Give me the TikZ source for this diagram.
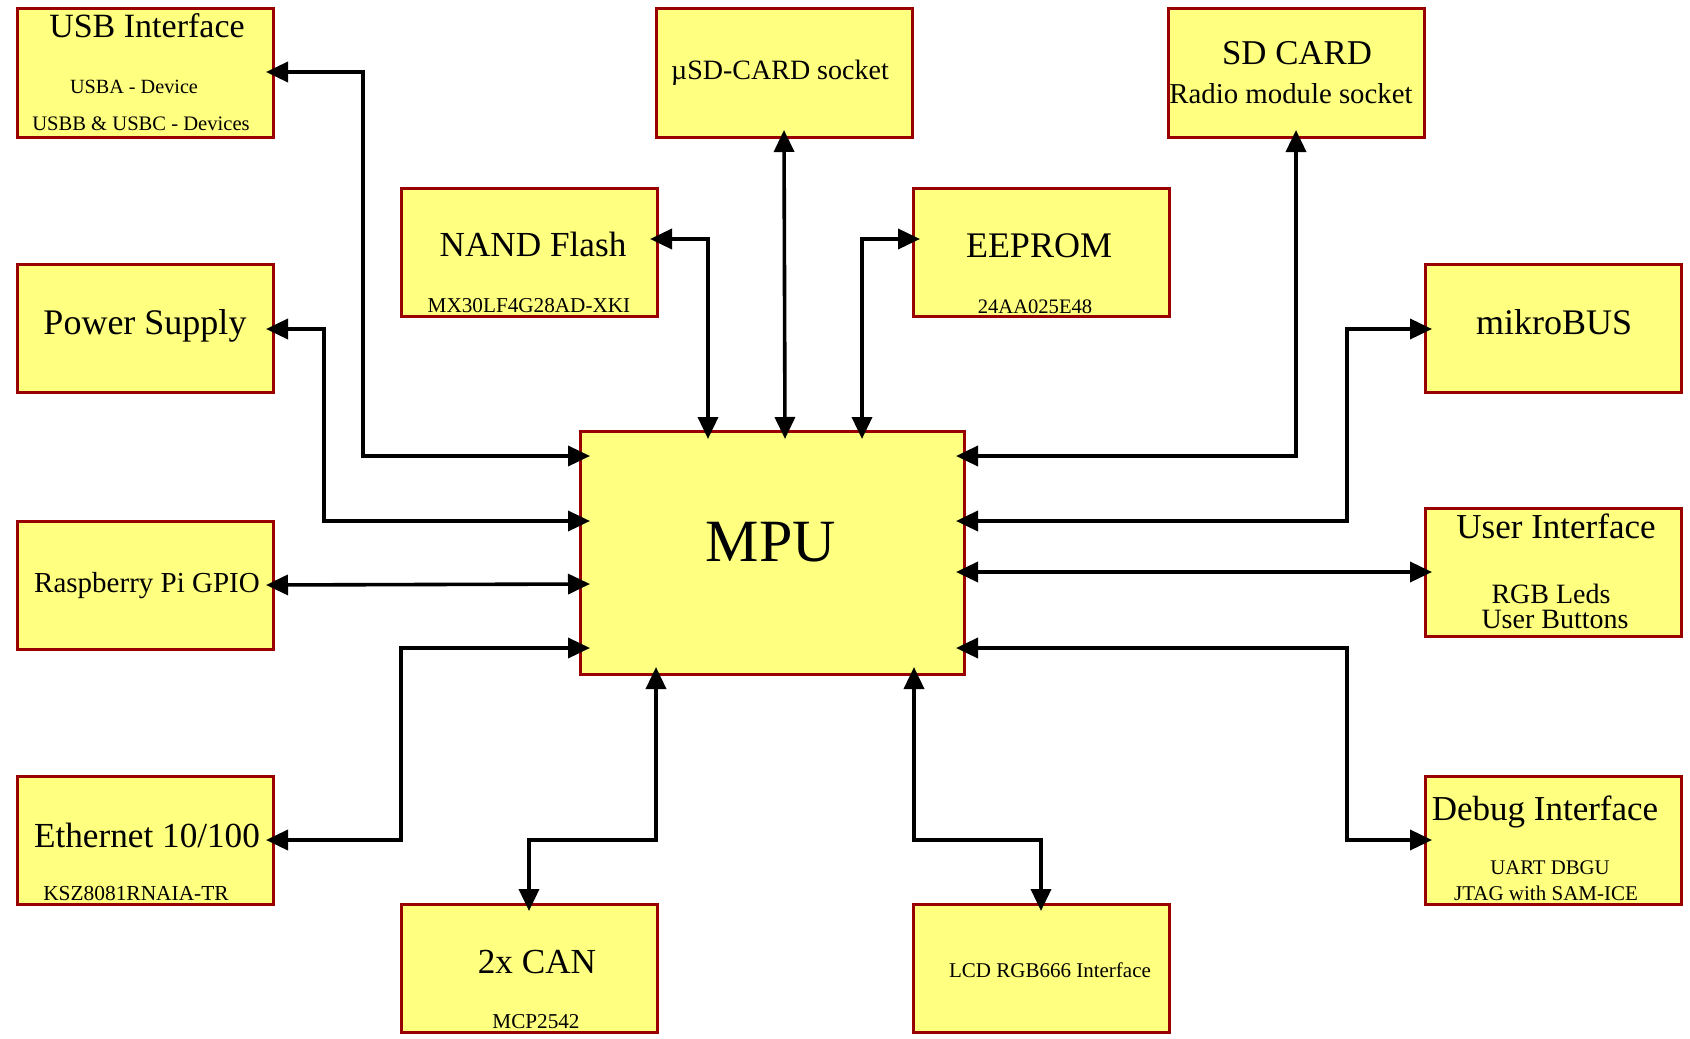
\documentclass[tikz,border=0pt]{standalone}
\usepackage{fontspec}
\setmainfont{Liberation Serif}
\usepackage{tikz}
\usetikzlibrary{arrows.meta,calc}
\definecolor{boxfill}{HTML}{FFFF80}
\definecolor{boxline}{HTML}{990000}
\tikzset{
  blk/.style={draw=boxline, fill=boxfill, line width=1.5pt, minimum width=128pt,
    minimum height=64pt, anchor=north west, inner sep=0pt, outer sep=0pt},
  lbl/.style={anchor=base, inner sep=0pt},
  fs/.style={font=\fontsize{#1}{#1}\selectfont},
  link/.style={line width=1.8pt, <->, >={Triangle[length=11pt,width=10pt]}}
}
\begin{document}
\begin{tikzpicture}[x=0.5pt,y=-0.5pt]
\useasboundingbox (0,0) rectangle (1690,1038);

\node[blk] (usb) at (17,9) {};
\node[blk] (usd) at (656,9) {};
\node[blk] (sd) at (1168,9) {};
\node[blk] (nand) at (401,188) {};
\node[blk] (eep) at (913,188) {};
\node[blk] (pow) at (17,264) {};
\node[blk] (mik) at (1425,264) {};
\node[blk] (ras) at (17,521) {};
\node[blk] (ui) at (1425,508) {};
\node[blk] (eth) at (17,776) {};
\node[blk] (dbg) at (1425,776) {};
\node[blk] (can) at (401,904) {};
\node[blk] (lcd) at (913,904) {};
\node[blk, minimum width=192pt, minimum height=121.5pt] (mpu) at (580,431) {};

\node[lbl,fs=17] (usbT) at (147,38) {USB Interface};
\node[lbl,fs=10.1] (usbA) at (134,94) {USBA - Device};
\node[lbl,fs=10.3] (usbB) at (141,131) {USBB \& USBC - Devices};
\node[lbl,fs=14] (usdT) at (780,80) {µSD-CARD socket};
\node[lbl,fs=17.4] (sdT) at (1297,65) {SD CARD};
\node[lbl,fs=14.4] (sdB) at (1291,104) {Radio module socket};
\node[lbl,fs=17.6] (nandT) at (533,256) {NAND Flash};
\node[lbl,fs=10.6] (nandB) at (529,312) {MX30LF4G28AD-XKI};
\node[lbl,fs=18] (eepT) at (1039,257) {EEPROM};
\node[lbl,fs=10.3] (eepB) at (1035,313) {24AA025E48};
\node[lbl,fs=18] (powT) at (145,334) {Power Supply};
\node[lbl,fs=18] (mikT) at (1554,334) {mikroBUS};
\node[lbl,fs=14.5] (rasT) at (147,592) {Raspberry Pi GPIO};
\node[lbl,fs=30] (mpuT) at (771,561) {MPU};
\node[lbl,fs=17.5] (uiT) at (1556,538) {User Interface};
\node[lbl,fs=14] (uiA) at (1551,603) {RGB Leds};
\node[lbl,fs=14] (uiB) at (1555,628) {User Buttons};
\node[lbl,fs=17.6] (ethT) at (147,847) {Ethernet 10/100};
\node[lbl,fs=10.7] (ethB) at (136,900) {KSZ8081RNAIA-TR};
\node[lbl,fs=17.5] (dbgT) at (1545,820) {Debug Interface};
\node[lbl,fs=10.4] (dbgA) at (1550,874) {UART DBGU};
\node[lbl,fs=10.5] (dbgB) at (1546,900) {JTAG with SAM-ICE};
\node[lbl,fs=17.6] (canT) at (537,973) {2x CAN};
\node[lbl,fs=10.6] (canB) at (536,1028) {MCP2542};
\node[lbl,fs=10.5] (lcdT) at (1050,977) {LCD RGB666 Interface};

% ports on the MPU
\coordinate (mw1) at ([shift={(10,25)}]mpu.north west);
\coordinate (mw2) at ([shift={(10,90)}]mpu.north west);
\coordinate (mw3) at ([shift={(10,153)}]mpu.north west);
\coordinate (mw4) at ([shift={(10,217)}]mpu.north west);
\coordinate (me1) at ([shift={(376,25)}]mpu.north west);
\coordinate (me2) at ([shift={(376,90)}]mpu.north west);
\coordinate (me3) at ([shift={(376,141)}]mpu.north west);
\coordinate (me4) at ([shift={(376,217)}]mpu.north west);
\coordinate (mt1) at ([shift={(128,8)}]mpu.north west);
\coordinate (mt2) at ([shift={(205,8)}]mpu.north west);
\coordinate (mt3) at ([shift={(282,8)}]mpu.north west);
\coordinate (mb1) at ([shift={(76,236)}]mpu.north west);
\coordinate (mb2) at ([shift={(334,236)}]mpu.north west);

% ports on the blocks
\coordinate (usbP) at ([shift={(-7,-1)}]usb.east);
\coordinate (powP) at ([shift={(-7,1)}]pow.east);
\coordinate (rasP) at ([shift={(-7,0)}]ras.east);
\coordinate (ethP) at ([shift={(-7,0)}]eth.east);
\coordinate (nandP) at ([shift={(-7,-13)}]nand.east);
\coordinate (eepP) at ([shift={(7,-13)}]eep.west);
\coordinate (usdP) at ([shift={(0,-7)}]usd.south);
\coordinate (sdP) at ([shift={(0,-7)}]sd.south);
\coordinate (mikP) at ([shift={(7,1)}]mik.west);
\coordinate (uiP) at ([shift={(7,0)}]ui.west);
\coordinate (dbgP) at ([shift={(7,0)}]dbg.west);
\coordinate (canP) at ([shift={(0,7)}]can.north);
\coordinate (lcdP) at ([shift={(0,7)}]lcd.north);

\draw[link] (usbP) -- ++(97,0) |- (mw1);
\draw[link] (powP) -- ++(58,0) |- (mw2);
\draw[link] (rasP) -- (mw3);
\draw[link] (ethP) -- ++(135,0) |- (mw4);
\draw[link] (nandP) -| (mt1);
\draw[link] (usdP) -- (mt2);
\draw[link] (eepP) -| (mt3);
\draw[link] (sdP) |- (me1);
\draw[link] (mikP) -- ++(-85,0) |- (me2);
\draw[link] (uiP) -- (me3);
\draw[link] (dbgP) -- ++(-85,0) |- (me4);
\draw[link] (canP) -- ++(0,-71) -| (mb1);
\draw[link] (lcdP) -- ++(0,-71) -| (mb2);
\end{tikzpicture}
\end{document}
